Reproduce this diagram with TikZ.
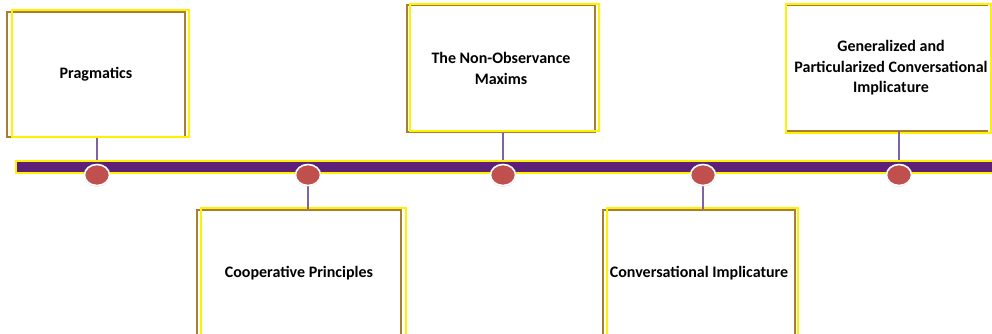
\documentclass[tikz,border=0pt]{standalone}
\usepackage{fontspec}
\setmainfont{Carlito}
\usetikzlibrary{shapes.geometric,shadows}
\definecolor{barpurple}{HTML}{5E1F78}
\definecolor{boxbrown}{HTML}{A97D33}
\definecolor{conn}{HTML}{8064A2}
\definecolor{dotred}{HTML}{C0504D}
\begin{document}
\begin{tikzpicture}[x=1pt,y=-1pt,
  txt/.style={inner sep=0pt,align=center,font=\fontsize{16}{20.5}\selectfont\bfseries},
  box/.style={txt,draw=boxbrown,line width=1.4pt,fill=white,minimum width=#1},
  box/.default=180pt,
  ybox/.style={draw=yellow,line width=2.6pt},
  connector/.style={draw=conn,line width=1.2pt},
  dot/.style={ellipse,draw=white,line width=1.6pt,fill=dotred,minimum width=25pt,minimum height=21pt,inner sep=0pt,
    drop shadow={shadow xshift=0pt,shadow yshift=-1.2pt,opacity=0.35}}
]
\useasboundingbox (0,0) rectangle (992,334);
% boxes
\node[box=178pt,minimum height=125pt] (b1) at (96,74.5) {Pragmatics};
\node[box=204pt,minimum height=126pt] (b2) at (299,273) {Cooperative Principles};
\node[box=188pt,minimum height=127pt] (b3) at (501,68.5) {The Non-Observance\\Maxims};
\node[box=192pt,minimum height=126pt] (b4) at (699,273) {Conversational Implicature};
\node[txt,minimum width=200pt,minimum height=126pt] (b5) at (891,68) {Generalized and\\Particularized Conversational\\Implicature};
\draw[draw=boxbrown,line width=1.4pt] (787,5) -- (988,5) (787,131) -- (988,131);
% yellow frames
\draw[ybox] (12,10) rectangle (189,137);
\draw[ybox] (201,208) rectangle (406,340);
\draw[ybox] (410,4) rectangle (599,131);
\draw[ybox] (607,208) rectangle (798,340);
\draw[ybox] (786,4) rectangle (991,133);
% dots positions
\coordinate (d1) at (97,175);
\coordinate (d2) at (308,175);
\coordinate (d3) at (503,175);
\coordinate (d4) at (703,175);
\coordinate (d5) at (899,175);
% connectors
\draw[connector] (b1.south -| d1) -- (d1);
\draw[connector] (d2) -- (b2.north -| d2);
\draw[connector] (b3.south -| d3) -- (d3);
\draw[connector] (d4) -- (b4.north -| d4);
\draw[connector] (b5.south -| d5) -- (d5);
% bar
\fill[yellow] (15,159.5) rectangle (992,173.5);
\fill[barpurple] (17,161.5) rectangle (992,171.5);
% dots
\foreach \p in {d1,d2,d3,d4,d5}{\node[dot] (n\p) at (\p) {};}
\end{tikzpicture}
\end{document}
